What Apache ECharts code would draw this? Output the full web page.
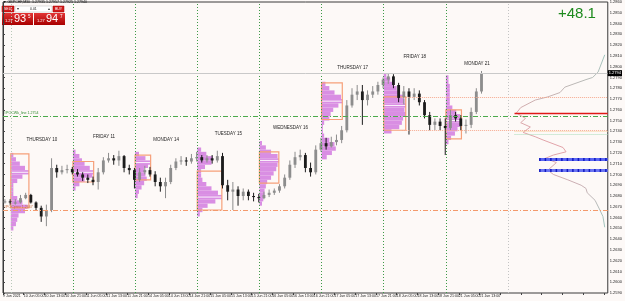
<!DOCTYPE html>
<html>
<head>
<meta charset="utf-8">
<script src="https://cdn.jsdelivr.net/npm/echarts@6/dist/echarts.min.js"></script>
<style>
html, body { margin: 0; padding: 0; background: #fdf9f7; }
#chart { width: 625px; height: 301px; }
</style>
</head>
<body>
<div id="chart"></div>
<script>
// x = M30 bar index counted from 9 Jun 21:00 (weekends skipped like MT4)
// candles below are 2h groups of 4 bars
const xTickLabels = ['9 Jun 2021', '10 Jun 05:00', '10 Jun 13:00', '10 Jun 21:00', '11 Jun 05:00', '11 Jun 13:00',
  '11 Jun 21:00', '14 Jun 05:00', '14 Jun 13:00', '14 Jun 21:00', '15 Jun 05:00', '15 Jun 13:00', '15 Jun 21:00',
  '16 Jun 05:00', '16 Jun 13:00', '16 Jun 21:00', '17 Jun 05:00', '17 Jun 13:00', '17 Jun 21:00', '18 Jun 05:00',
  '18 Jun 13:00', '18 Jun 21:00', '21 Jun 05:00', '21 Jun 13:00']

const openP = [1.2674, 1.2675, 1.2674, 1.2674, 1.2678, 1.2681, 1.2674, 1.2669, 1.2661, 1.2667,
  1.2706, 1.2702, 1.2704, 1.2705, 1.2702, 1.2700, 1.2697, 1.2695, 1.2693, 1.2702,
  1.2713, 1.2715, 1.2713, 1.2717, 1.2706, 1.2704, 1.2695, 1.2702, 1.2704, 1.2700,
  1.2693, 1.2689, 1.2693, 1.2706, 1.2712, 1.2713, 1.2712, 1.2715, 1.2716, 1.2713,
  1.2715, 1.2713, 1.2717, 1.2690, 1.2684, 1.2686, 1.2680, 1.2684, 1.2680, 1.2679,
  1.2678, 1.2681, 1.2683, 1.2685, 1.2689, 1.2697, 1.2709, 1.2716, 1.2718, 1.2706,
  1.2702, 1.2723, 1.2729, 1.2726, 1.2730, 1.2732, 1.2741, 1.2764, 1.2774, 1.2777,
  1.2769, 1.2774, 1.2777, 1.2783, 1.2788, 1.2791, 1.2783, 1.2771, 1.2777, 1.2772,
  1.2775, 1.2767, 1.2755, 1.2746, 1.2749, 1.2745, 1.2743, 1.2755, 1.2752, 1.2745,
  1.2746, 1.2758, 1.2777]
const closeP = [1.2675, 1.2674, 1.2674, 1.2678, 1.2681, 1.2674, 1.2669, 1.2661, 1.2667, 1.2706,
  1.2702, 1.2704, 1.2705, 1.2702, 1.2700, 1.2697, 1.2695, 1.2693, 1.2702, 1.2713,
  1.2715, 1.2713, 1.2717, 1.2706, 1.2704, 1.2695, 1.2702, 1.2704, 1.2700, 1.2693,
  1.2689, 1.2693, 1.2706, 1.2712, 1.2713, 1.2712, 1.2715, 1.2716, 1.2713, 1.2715,
  1.2713, 1.2717, 1.2690, 1.2684, 1.2686, 1.2680, 1.2684, 1.2680, 1.2679, 1.2678,
  1.2681, 1.2683, 1.2685, 1.2689, 1.2697, 1.2709, 1.2716, 1.2718, 1.2706, 1.2702,
  1.2723, 1.2729, 1.2726, 1.2730, 1.2732, 1.2741, 1.2764, 1.2774, 1.2777, 1.2769,
  1.2774, 1.2777, 1.2783, 1.2788, 1.2791, 1.2783, 1.2771, 1.2777, 1.2772, 1.2775,
  1.2767, 1.2755, 1.2746, 1.2749, 1.2745, 1.2743, 1.2755, 1.2752, 1.2745, 1.2746,
  1.2758, 1.2777, 1.2794]
const highP = [1.2677, 1.2677, 1.2677, 1.2681, 1.2683, 1.2682, 1.2675, 1.2671, 1.2672, 1.2715,
  1.2709, 1.2708, 1.2709, 1.2707, 1.2705, 1.2702, 1.2700, 1.2698, 1.2706, 1.2716,
  1.2720, 1.2718, 1.2722, 1.2718, 1.2709, 1.2706, 1.2706, 1.2708, 1.2707, 1.2703,
  1.2697, 1.2697, 1.2709, 1.2715, 1.2717, 1.2716, 1.2719, 1.2721, 1.2718, 1.2718,
  1.2718, 1.2722, 1.2720, 1.2695, 1.2693, 1.2689, 1.2687, 1.2686, 1.2683, 1.2682,
  1.2684, 1.2686, 1.2687, 1.2691, 1.2700, 1.2713, 1.2721, 1.2723, 1.2720, 1.2711,
  1.2727, 1.2734, 1.2734, 1.2735, 1.2737, 1.2745, 1.2769, 1.2780, 1.2783, 1.2783,
  1.2778, 1.2782, 1.2786, 1.2790, 1.2794, 1.2793, 1.2785, 1.2782, 1.2780, 1.2780,
  1.2778, 1.2769, 1.2758, 1.2752, 1.2752, 1.2752, 1.2760, 1.2758, 1.2755, 1.2751,
  1.2762, 1.2780, 1.2796]
const lowP = [1.2673, 1.2672, 1.2672, 1.2673, 1.2677, 1.2673, 1.2667, 1.2656, 1.2652, 1.2665,
  1.2697, 1.2700, 1.2701, 1.2700, 1.2698, 1.2694, 1.2692, 1.2690, 1.2686, 1.2700,
  1.2711, 1.2709, 1.2708, 1.2702, 1.2700, 1.2687, 1.2693, 1.2700, 1.2698, 1.2689,
  1.2684, 1.2678, 1.2691, 1.2704, 1.2709, 1.2708, 1.2710, 1.2712, 1.2711, 1.2711,
  1.2710, 1.2711, 1.2687, 1.2676, 1.2667, 1.2671, 1.2676, 1.2676, 1.2675, 1.2674,
  1.2677, 1.2679, 1.2681, 1.2683, 1.2687, 1.2695, 1.2706, 1.2713, 1.2702, 1.2698,
  1.2700, 1.2721, 1.2723, 1.2725, 1.2727, 1.2729, 1.2739, 1.2762, 1.2769, 1.2746,
  1.2764, 1.2771, 1.2774, 1.2780, 1.2784, 1.2780, 1.2767, 1.2765, 1.2737, 1.2769,
  1.2764, 1.2752, 1.2741, 1.2741, 1.2741, 1.2718, 1.2741, 1.2749, 1.2741, 1.2738,
  1.2743, 1.2756, 1.2775]

const dayNames = ['THURSDAY 10', 'FRIDAY 11', 'MONDAY 14', 'TUESDAY 15', 'WEDNESDAY 16', 'THURSDAY 17', 'FRIDAY 18', 'MONDAY 21']
const dayStartBar = [6, 54, 102, 150, 198, 246, 294, 342]
const dayLabelPrice = [1.2732, 1.2735, 1.2732, 1.2738, 1.2743, 1.2799, 1.2809, 1.2803]
const vaHigh = [1.2719, 1.2712, 1.2718, 1.2703, 1.2721, 1.2785, 1.2772, 1.2760]
const vaLow = [1.2669, 1.2693, 1.2695, 1.2667, 1.2692, 1.2751, 1.2741, 1.2733]

// daily profiles: [price, number of 30 min periods]
const profThu10 = [[1.2718, 2], [1.2714, 4], [1.2710, 7], [1.2706, 11], [1.2702, 14], [1.2698, 9], [1.2694, 5],
  [1.2690, 2], [1.2686, 2], [1.2682, 2], [1.2678, 5], [1.2674, 9], [1.2670, 13], [1.2666, 11], [1.2662, 6],
  [1.2658, 5], [1.2654, 4], [1.2650, 2]]
const profFri11 = [[1.2721, 2], [1.2717, 5], [1.2713, 7], [1.2710, 9], [1.2706, 13], [1.2702, 16], [1.2699, 15],
  [1.2695, 9], [1.2691, 5], [1.2687, 2]]
const profMon14 = [[1.2719, 3], [1.2715, 8], [1.2711, 12], [1.2708, 10], [1.2704, 7], [1.2700, 8], [1.2696, 9],
  [1.2692, 7], [1.2688, 5], [1.2684, 3], [1.2680, 2]]
const profTue15 = [[1.2723, 3], [1.2719, 7], [1.2715, 12], [1.2711, 11], [1.2707, 6], [1.2703, 3], [1.2699, 3],
  [1.2695, 4], [1.2691, 7], [1.2687, 11], [1.2683, 16], [1.2679, 19], [1.2675, 14], [1.2671, 8], [1.2667, 4], [1.2663, 2]]
const profWed16 = [[1.2729, 2], [1.2725, 5], [1.2721, 9], [1.2717, 14], [1.2713, 15], [1.2709, 14], [1.2705, 13],
  [1.2701, 11], [1.2697, 9], [1.2693, 6], [1.2689, 5], [1.2685, 4], [1.2681, 4], [1.2677, 3], [1.2673, 2]]
const profThu17 = [[1.2784, 3], [1.2780, 6], [1.2776, 10], [1.2772, 15], [1.2768, 16], [1.2764, 13], [1.2760, 9],
  [1.2756, 7], [1.2752, 6], [1.2748, 2], [1.2744, 1], [1.2740, 1], [1.2736, 2], [1.2732, 6], [1.2728, 10],
  [1.2724, 11], [1.2720, 8], [1.2716, 4]]
const profFri18 = [[1.2792, 2], [1.2788, 5], [1.2784, 8], [1.2780, 10], [1.2776, 12], [1.2772, 15], [1.2768, 16],
  [1.2764, 17], [1.2760, 16], [1.2756, 17], [1.2752, 15], [1.2748, 14], [1.2744, 12], [1.2740, 6]]
const profMon21 = [[1.2790, 2], [1.2786, 2], [1.2782, 3], [1.2778, 3], [1.2774, 3], [1.2770, 3], [1.2766, 3],
  [1.2762, 5], [1.2758, 8], [1.2754, 11], [1.2750, 12], [1.2746, 11], [1.2742, 9], [1.2738, 7], [1.2734, 4], [1.2730, 2]]
const profiles = [profThu10, profFri11, profMon14, profTue15, profWed16, profThu17, profFri18, profMon21]
const profStep = 0.0004

// whole period profile on the right
const totalPrice = [1.2811, 1.2795, 1.2790, 1.2788, 1.2781, 1.2776, 1.2772, 1.2769, 1.2762, 1.2757, 1.2752, 1.2748,
  1.2744, 1.2739, 1.2735, 1.2732, 1.2725, 1.2721, 1.2718, 1.2715, 1.2711, 1.2704, 1.2700, 1.2695, 1.2690, 1.2687,
  1.2683, 1.2676, 1.2667, 1.2661, 1.2651]
const totalVol = [0.5, 1.6, 2.5, 3.6, 7.1, 7.9, 9.9, 12, 14.4, 15.1, 13.6, 14.4, 12.8, 14, 12, 10.7, 7.4, 6.9, 9,
  10.3, 8.5, 9.9, 9, 6.6, 4.4, 3.6, 3.4, 2.1, 1.3, 0.8, 0.5]

const levelWeekPoc = 1.2754
const levelPrevPoc = 1.2667
const levelRed = 1.2757
const levelGreenDot = 1.2737
const levelBlue = [1.2714, 1.2704]
const barsEnd = 467

const candleData = openP.map((o, i) => [i * 4 + 1.5, o, closeP[i], lowP[i], highP[i]])
const profData = []
profiles.forEach((prof, d) => prof.forEach(r => profData.push([dayStartBar[d], r[0], r[1]])))
const boxData = profiles.map((prof, d) => {
  let poc = prof[0]
  prof.forEach(r => { if (r[1] > poc[1]) poc = r })
  return [dayStartBar[d], vaHigh[d], vaLow[d], poc[1], poc[0]]
})
const lastClose = closeP[closeP.length - 1]

let chart = echarts.init(document.getElementById('chart'))

function renderCandle (params, api) {
  let x = api.value(0)
  let o = api.value(1)
  let c = api.value(2)
  let pO = api.coord([x, o])
  let pC = api.coord([x, c])
  let pL = api.coord([x, api.value(3)])
  let pH = api.coord([x, api.value(4)])
  let w = api.size([2.2, 0])[0]
  let col = c >= o ? '#8d8d8d' : '#1c1c1c'
  return {
    type: 'group',
    children: [
      { type: 'line', shape: { x1: pH[0], y1: pH[1], x2: pL[0], y2: pL[1] }, style: { stroke: col, lineWidth: 1 } },
      {
        type: 'rect',
        shape: { x: pO[0] - w / 2, y: Math.min(pO[1], pC[1]), width: w, height: Math.max(1, Math.abs(pO[1] - pC[1])) },
        style: { fill: col }
      }
    ]
  }
}

function renderProfile (params, api) {
  let s = api.value(0)
  let p = api.value(1)
  let a = api.coord([s, p + profStep / 2])
  let b = api.coord([s + api.value(2), p - profStep / 2])
  return { type: 'rect', shape: { x: a[0], y: a[1], width: b[0] - a[0], height: b[1] - a[1] }, style: { fill: '#d98ee3' } }
}

function renderBox (params, api) {
  let s = api.value(0)
  let n = api.value(3)
  let a = api.coord([s, api.value(1)])
  let b = api.coord([s + n, api.value(2)])
  let pl = api.coord([s, api.value(4)])
  let pr = api.coord([s + n, api.value(4)])
  return {
    type: 'group',
    children: [
      { type: 'line', shape: { x1: pl[0], y1: pl[1], x2: pr[0], y2: pr[1] }, style: { stroke: 'rgba(255,255,255,0.9)', lineWidth: 1 } },
      { type: 'rect', shape: { x: a[0], y: a[1], width: b[0] - a[0], height: b[1] - a[1] }, style: { fill: 'none', stroke: '#f6a07a', lineWidth: 1.2 } }
    ]
  }
}

function renderDayLabel (params, api) {
  let p = api.coord([api.value(0), api.value(1)])
  return { type: 'text', x: p[0], y: p[1], style: { text: dayNames[params.dataIndex], fontSize: 4.5, fill: '#222', align: 'center', verticalAlign: 'middle' } }
}

function vLine (bar, color) {
  return { xAxis: bar, lineStyle: { color: color, type: [1, 2], width: 1 } }
}
function hSeg (x0, price, color, type, width, label) {
  return [
    { coord: [x0, price], lineStyle: { color: color, type: type, width: width }, label: label || { show: false } },
    { coord: [barsEnd, price] }
  ]
}

let options = {
  backgroundColor: '#fdf9f7',
  animation: false,
  textStyle: { fontFamily: 'Arial, Liberation Sans, sans-serif' },
  grid: { left: 1, right: 15, top: 2, bottom: 8, show: true, borderColor: '#3a3a3a', borderWidth: 1 },
  xAxis: [
    {
      type: 'value',
      min: 0,
      max: barsEnd,
      interval: 16,
      splitLine: { show: false },
      axisLine: { show: false },
      axisTick: { show: true, length: 2, lineStyle: { color: '#444' } },
      axisLabel: {
        fontSize: 3.6,
        color: '#222',
        margin: 1,
        align: 'left',
        showMaxLabel: false,
        formatter: v => xTickLabels[Math.round(v / 16)] || ''
      }
    },
    { type: 'value', min: 0, max: 100, inverse: true, show: false }
  ],
  yAxis: {
    type: 'value',
    position: 'right',
    min: 1.2590,
    max: 1.2860,
    interval: 0.001,
    splitLine: { show: false },
    axisLine: { show: true, lineStyle: { color: '#3a3a3a' } },
    axisTick: { show: true, length: 2, lineStyle: { color: '#444' } },
    axisLabel: { fontSize: 4, color: '#222', margin: 2, formatter: v => v.toFixed(4) }
  },
  series: [
    {
      name: 'profiles',
      type: 'custom',
      renderItem: renderProfile,
      data: profData,
      z: 1,
      silent: true
    },
    {
      name: 'value area',
      type: 'custom',
      renderItem: renderBox,
      data: boxData,
      z: 3,
      silent: true
    },
    {
      name: 'price',
      type: 'custom',
      renderItem: renderCandle,
      data: candleData,
      z: 4,
      silent: true,
      markLine: {
        silent: true,
        symbol: ['none', 'none'],
        label: { show: false },
        data: [
          vLine(dayStartBar[0], '#b8c8b8'),
          vLine(dayStartBar[1], '#3d9a46'),
          vLine(dayStartBar[2], '#3d9a46'),
          vLine(dayStartBar[3], '#3d9a46'),
          vLine(dayStartBar[4], '#3d9a46'),
          vLine(dayStartBar[5], '#3d9a46'),
          vLine(dayStartBar[6], '#3d9a46'),
          vLine(dayStartBar[7], '#3d9a46'),
          vLine(390, '#c4c4c4'),
          hSeg(0, lastClose, '#c9c9c9', 'solid', 1, {
            show: true,
            position: 'end',
            distance: 0,
            formatter: lastClose.toFixed(4),
            fontSize: 4,
            color: '#fff',
            backgroundColor: '#000',
            padding: [1, 1]
          }),
          hSeg(0, levelWeekPoc, '#4caa4c', [5, 2, 1, 2], 1,
            { show: true, position: 'insideStartTop', formatter: '#POCWk_line 1.2754', fontSize: 3.6, color: '#2f8a2f', distance: 1 }),
          hSeg(0, levelPrevPoc, '#f39a6c', [5, 2, 1, 2], 1,
            { show: true, position: 'insideStartTop', formatter: '#POCprev 1.2667', fontSize: 3.6, color: '#c86a3a', distance: 1 }),
          hSeg(dayStartBar[6] + 14, vaHigh[6], '#f6ab90', [1, 1], 1),
          hSeg(dayStartBar[6] + 14, vaLow[6], '#f6ab90', [1, 1], 1),
          hSeg(395, vaLow[6] - 0.00005, '#f8d3a0', [1, 1], 1),
          hSeg(395, levelGreenDot, '#a8dcb8', [1, 1], 1),
          hSeg(395, levelRed, '#e01818', 'solid', 1.4),
          hSeg(414, levelBlue[0], '#5a66f2', 'solid', 3),
          hSeg(414, levelBlue[1], '#6a74f2', 'solid', 3),
          hSeg(414, levelBlue[0], '#1018c0', [1.5, 4], 3),
          hSeg(414, levelBlue[1], '#1018c0', [1.5, 4], 3)
        ]
      }
    },
    {
      name: 'days',
      type: 'custom',
      renderItem: renderDayLabel,
      data: dayStartBar.map((s, i) => [s + 24, dayLabelPrice[i]]),
      z: 5,
      silent: true
    },
    {
      name: 'total profile',
      type: 'line',
      xAxisIndex: 1,
      symbol: 'none',
      silent: true,
      z: 2,
      lineStyle: {
        width: 1,
        color: new echarts.graphic.LinearGradient(0, 0, 0, 1, [
          { offset: 0, color: '#9cc7bf' },
          { offset: 0.35, color: '#d9a9ac' },
          { offset: 0.55, color: '#e3a2a8' },
          { offset: 0.75, color: '#c9b0b4' },
          { offset: 1, color: '#9cc7bf' }
        ])
      },
      data: totalPrice.map((p, i) => [totalVol[i], p])
    }
  ],
  graphic: [
    { type: 'text', x: 3, y: 0, style: { text: '▼ GBPCHF,M30  1.27935 1.27957 1.27925 1.27940', fontSize: 3.6, fill: '#111' } },
    { type: 'rect', shape: { x: 2, y: 6, width: 12, height: 6 }, style: { fill: '#d01b1b', stroke: '#a00', lineWidth: 0.5 } },
    { type: 'text', x: 4, y: 7.5, style: { text: 'SELL', fontSize: 3.5, fill: '#fff' } },
    { type: 'rect', shape: { x: 15, y: 6, width: 37, height: 6 }, style: { fill: '#fff', stroke: '#bbb', lineWidth: 0.5 } },
    { type: 'text', x: 17, y: 7, style: { text: '▾', fontSize: 4, fill: '#333' } },
    { type: 'text', x: 30, y: 7.5, style: { text: '0.01', fontSize: 3.5, fill: '#222' } },
    { type: 'text', x: 48, y: 7, style: { text: '▴', fontSize: 4, fill: '#333' } },
    { type: 'rect', shape: { x: 53, y: 6, width: 11, height: 6 }, style: { fill: '#d01b1b', stroke: '#a00', lineWidth: 0.5 } },
    { type: 'text', x: 55, y: 7.5, style: { text: 'BUY', fontSize: 3.5, fill: '#fff' } },
    {
      type: 'rect',
      shape: { x: 2, y: 13, width: 31, height: 12 },
      style: { fill: new echarts.graphic.LinearGradient(0, 0, 0, 1, [{ offset: 0, color: '#e23434' }, { offset: 1, color: '#a80000' }]) }
    },
    {
      type: 'rect',
      shape: { x: 34, y: 13, width: 31, height: 12 },
      style: { fill: new echarts.graphic.LinearGradient(0, 0, 0, 1, [{ offset: 0, color: '#e23434' }, { offset: 1, color: '#a80000' }]) }
    },
    { type: 'text', x: 5, y: 19, style: { text: '1.27', fontSize: 4, fill: '#fff' } },
    { type: 'text', x: 14, y: 13.5, style: { text: '93', fontSize: 11, fill: '#fff' } },
    { type: 'text', x: 28, y: 14, style: { text: '5', fontSize: 4.5, fill: '#fff' } },
    { type: 'text', x: 37, y: 19, style: { text: '1.27', fontSize: 4, fill: '#fff' } },
    { type: 'text', x: 46, y: 13.5, style: { text: '94', fontSize: 11, fill: '#fff' } },
    { type: 'text', x: 60, y: 14, style: { text: '7', fontSize: 4.5, fill: '#fff' } },
    { type: 'text', x: 558, y: 6, style: { text: '+48.1', fontSize: 15, fill: '#1d8a1d' } }
  ]
}

chart.setOption(options)
window.addEventListener('resize', () => chart.resize())
</script>
</body>
</html>
